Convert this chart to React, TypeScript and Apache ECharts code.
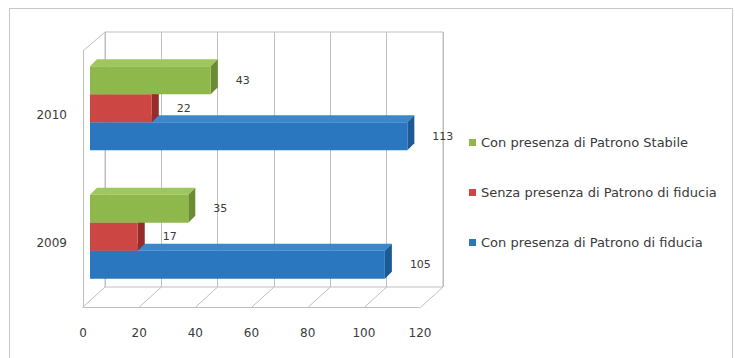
import React, { useEffect, useRef } from "react";
import * as echarts from "echarts";

const years = ["2009", "2010"];
const conFiducia = [105, 113];
const senzaFiducia = [17, 22];
const conStabile = [35, 43];
const xTicks = [0, 20, 40, 60, 80, 100, 120];

const seriesNames = [
  "Con presenza di Patrono di fiducia",
  "Senza presenza di Patrono di fiducia",
  "Con presenza di Patrono Stabile",
];
const seriesValues = [conFiducia, senzaFiducia, conStabile];
const faceColors = [
  { front: "#2A77C0", top: "#3C86CC", side: "#1C5A95" },
  { front: "#CC4744", top: "#D85E5B", side: "#962C2A" },
  { front: "#8EB84C", top: "#A0C65E", side: "#6A8C33" },
];

const FONT = "DejaVu Sans";
const TEXT = "#3A3A3A";
const LINE = "#BFBFBF";

export default function App() {
  const ref = useRef<HTMLDivElement>(null);

  useEffect(() => {
    if (!ref.current) return;
    const chart = echarts.init(ref.current, null, { renderer: "svg" });
    const depth = 7;

    const barSeries = seriesValues.map((vals, s) => ({
      type: "custom",
      name: seriesNames[s],
      xAxisIndex: 2,
      yAxisIndex: 2,
      clip: false,
      itemStyle: { color: faceColors[s].front },
      encode: { x: 0, y: 1 },
      data: vals.map((v, i) => [v, i]),
      renderItem: (params: any, api: any) => {
        const val = api.value(0);
        const cat = api.value(1);
        const end = api.coord([val, cat]);
        const start = api.coord([0, cat]);
        const band = api.size([0, 1])[1];
        const h = band * 0.218;
        const groupTop = end[1] - 1.5 * h;
        const y0 = groupTop + (2 - s) * h;
        const y1 = y0 + h;
        const x0 = start[0];
        const x1 = end[0];
        const c = faceColors[s];
        return {
          type: "group",
          children: [
            {
              type: "polygon",
              shape: {
                points: [
                  [x0, y0],
                  [x0 + depth, y0 - depth],
                  [x1 + depth, y0 - depth],
                  [x1, y0],
                ],
              },
              style: { fill: c.top },
            },
            {
              type: "polygon",
              shape: {
                points: [
                  [x1, y0],
                  [x1 + depth, y0 - depth],
                  [x1 + depth, y1 - depth],
                  [x1, y1],
                ],
              },
              style: { fill: c.side },
            },
            {
              type: "rect",
              shape: { x: x0, y: y0, width: x1 - x0, height: h },
              style: { fill: c.front },
            },
            {
              type: "text",
              style: {
                text: String(val),
                x: x1 + depth + 18,
                y: (y0 + y1) / 2,
                align: "left",
                verticalAlign: "middle",
                fill: TEXT,
                font: `11px "${FONT}"`,
              },
            },
          ],
        };
      },
    }));

    const frameSeries = {
      type: "custom",
      name: "frame",
      xAxisIndex: 1,
      yAxisIndex: 1,
      silent: true,
      clip: false,
      data: xTicks.map((t) => [t, 0]),
      renderItem: (params: any, api: any) => {
        const v = api.value(0);
        const b = api.coord([v, 0]);
        const children: any[] = [
          {
            type: "line",
            shape: { x1: b[0], y1: b[1], x2: b[0] - 22, y2: b[1] + 20 },
            style: { stroke: LINE, lineWidth: 1 },
          },
        ];
        if (v === 0) {
          const t = api.coord([0, 1]);
          children.push({
            type: "line",
            shape: { x1: t[0], y1: t[1], x2: t[0] - 22, y2: t[1] + 19 },
            style: { stroke: LINE, lineWidth: 1 },
          });
        }
        return { type: "group", children };
      },
    };

    chart.setOption({
      animation: false,
      backgroundColor: "#FFFFFF",
      textStyle: { fontFamily: FONT, color: TEXT },
      graphic: [
        {
          type: "rect",
          shape: { x: 9.5, y: 8.5, width: 723, height: 360 },
          style: { fill: "none", stroke: "#C8C8C8", lineWidth: 1 },
          silent: true,
        },
      ],
      legend: {
        orient: "vertical",
        left: 464,
        top: 130,
        itemWidth: 7,
        itemHeight: 7,
        itemGap: 35,
        icon: "rect",
        data: [seriesNames[2], seriesNames[1], seriesNames[0]],
        textStyle: { fontFamily: FONT, fontSize: 13, color: TEXT, lineHeight: 15 },
      },
      grid: [
        { left: 83, top: 51, width: 337, height: 256 },
        {
          left: 105,
          top: 32,
          width: 338,
          height: 255,
          show: true,
          borderColor: LINE,
          borderWidth: 1,
          backgroundColor: "transparent",
        },
        { left: 90, top: 44, width: 337, height: 257 },
      ],
      xAxis: [
        {
          type: "value",
          gridIndex: 0,
          min: 0,
          max: 120,
          interval: 20,
          axisLine: { show: true, lineStyle: { color: LINE } },
          axisTick: { show: false },
          splitLine: { show: false },
          axisLabel: { margin: 20, fontSize: 12, color: TEXT, fontFamily: FONT },
        },
        {
          type: "value",
          gridIndex: 1,
          min: 0,
          max: 120,
          interval: 20,
          axisLine: { show: false },
          axisTick: { show: false },
          axisLabel: { show: false },
          splitLine: { show: true, lineStyle: { color: LINE, width: 1 } },
        },
        {
          type: "value",
          gridIndex: 2,
          min: 0,
          max: 120,
          show: false,
        },
      ],
      yAxis: [
        {
          type: "category",
          gridIndex: 0,
          data: years,
          axisLine: { show: true, lineStyle: { color: LINE } },
          axisTick: { show: false },
          axisLabel: { margin: 16, fontSize: 12, color: TEXT, fontFamily: FONT },
        },
        {
          type: "value",
          gridIndex: 1,
          min: 0,
          max: 1,
          show: false,
          splitLine: { show: false },
        },
        {
          type: "category",
          gridIndex: 2,
          data: years,
          show: false,
        },
      ],
      series: [frameSeries, ...barSeries],
    });

    return () => chart.dispose();
  }, []);

  return (
    <div
      ref={ref}
      style={{ position: "absolute", left: 0, top: 0, width: 735, height: 358, background: "#fff" }}
    />
  );
}
